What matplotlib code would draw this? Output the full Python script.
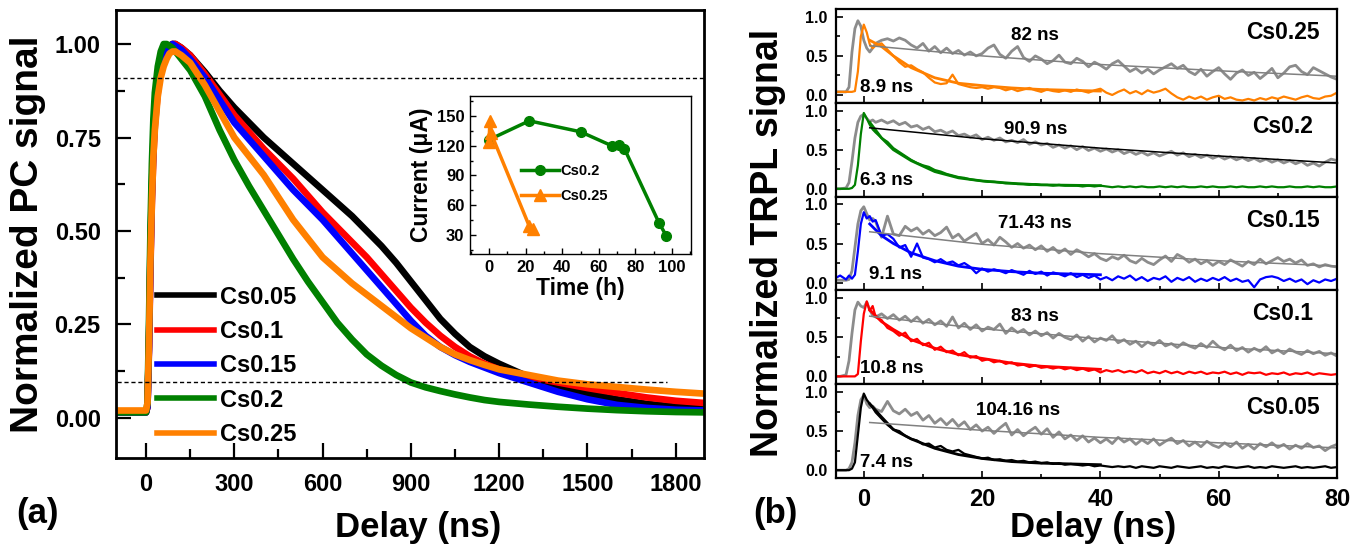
import numpy as np
import matplotlib
matplotlib.use('Agg')
import matplotlib.pyplot as plt
from matplotlib.ticker import MultipleLocator

plt.rcParams['font.family'] = ['Liberation Sans', 'DejaVu Sans']
plt.rcParams['font.weight'] = 'bold'
plt.rcParams['axes.labelweight'] = 'bold'

# ---------------- (a) photoconductivity decay ----------------
t_pc = [-100, 0, 5, 10, 15, 20, 25, 30, 40, 50, 60, 70, 80, 90, 100, 120, 150, 200, 250, 300,
        350, 400, 450, 500, 550, 600, 650, 700, 750, 800, 850, 900, 950, 1000, 1050, 1100,
        1150, 1200, 1300, 1400, 1500, 1600, 1700, 1800, 1900]
pc_cs005 = [0.015, 0.015, 0.03, 0.20, 0.45, 0.62, 0.74, 0.81, 0.89, 0.94, 0.97, 0.985, 0.995, 1.0, 1.0,
            0.99, 0.97, 0.925, 0.875, 0.83, 0.79, 0.75, 0.715, 0.68, 0.645, 0.61, 0.575, 0.54, 0.50,
            0.46, 0.415, 0.365, 0.315, 0.265, 0.225, 0.19, 0.165, 0.145, 0.11, 0.085, 0.065, 0.05,
            0.038, 0.03, 0.025]
pc_cs01 = [0.015, 0.015, 0.03, 0.18, 0.40, 0.58, 0.70, 0.78, 0.87, 0.93, 0.96, 0.98, 0.99, 1.0, 1.0,
           0.99, 0.97, 0.92, 0.865, 0.81, 0.765, 0.72, 0.68, 0.64, 0.595, 0.55, 0.51, 0.47, 0.43,
           0.385, 0.34, 0.295, 0.255, 0.22, 0.19, 0.165, 0.145, 0.13, 0.11, 0.095, 0.08, 0.067,
           0.055, 0.046, 0.04]
pc_cs015 = [0.015, 0.015, 0.03, 0.19, 0.42, 0.60, 0.72, 0.80, 0.88, 0.93, 0.965, 0.985, 0.995, 1.0, 0.995,
            0.985, 0.96, 0.91, 0.85, 0.79, 0.745, 0.70, 0.655, 0.61, 0.57, 0.53, 0.485, 0.44, 0.395,
            0.35, 0.305, 0.26, 0.22, 0.19, 0.168, 0.15, 0.135, 0.12, 0.095, 0.07, 0.05, 0.035,
            0.027, 0.022, 0.02]
pc_cs02 = [0.015, 0.015, 0.04, 0.25, 0.50, 0.68, 0.80, 0.87, 0.94, 0.98, 1.0, 1.0, 0.995, 0.99, 0.98,
           0.96, 0.93, 0.86, 0.77, 0.69, 0.62, 0.555, 0.49, 0.425, 0.365, 0.31, 0.255, 0.21, 0.17,
           0.14, 0.115, 0.095, 0.082, 0.072, 0.063, 0.055, 0.048, 0.043, 0.036, 0.03, 0.025, 0.021,
           0.018, 0.016, 0.015]
pc_cs025 = [0.02, 0.02, 0.04, 0.20, 0.42, 0.58, 0.70, 0.77, 0.86, 0.91, 0.94, 0.96, 0.975, 0.98, 0.98,
            0.97, 0.95, 0.89, 0.82, 0.75, 0.70, 0.65, 0.59, 0.53, 0.48, 0.43, 0.395, 0.36, 0.33,
            0.30, 0.27, 0.24, 0.215, 0.19, 0.17, 0.155, 0.142, 0.13, 0.115, 0.10, 0.09, 0.083,
            0.076, 0.07, 0.065]
pc_labels = ['Cs0.05', 'Cs0.1', 'Cs0.15', 'Cs0.2', 'Cs0.25']
pc_colors = ['#000000', '#FF0000', '#0000FF', '#008000', '#FF8000']

# inset: current vs time
time_cs02 = [0, 22, 50, 67, 71, 74, 93, 97]
cur_cs02 = [126, 145, 134, 120, 121, 117, 42, 29]
time_cs025 = [0, 0.5, 1, 22, 24]
cur_cs025 = [124, 145, 133, 39, 36]

# ---------------- (b) TRPL ----------------
t_pl = [-5, -4, -3, -2.5, -2, -1.5, -1, -0.5, 0, 0.5, 1, 1.5, 2] + list(range(3, 81))

gray_cs025 = [0.04, 0.04, 0.04, 0.10, 0.55, 0.85, 0.95, 0.88, 0.70, 0.60, 0.55, 0.60, 0.66,
              0.70, 0.72, 0.69, 0.73, 0.70, 0.64, 0.60, 0.66, 0.56, 0.62,
              0.54, 0.60, 0.53, 0.57, 0.51, 0.55, 0.50, 0.53, 0.60, 0.64,
              0.52, 0.47, 0.56, 0.62, 0.48, 0.43, 0.50, 0.46, 0.40, 0.44,
              0.51, 0.42, 0.40, 0.47, 0.43, 0.36, 0.42, 0.38, 0.33, 0.40,
              0.44, 0.37, 0.30, 0.34, 0.28, 0.33, 0.27, 0.32, 0.36, 0.40,
              0.34, 0.38, 0.30, 0.26, 0.33, 0.24, 0.30, 0.35, 0.27, 0.20,
              0.28, 0.32, 0.25, 0.29, 0.21, 0.27, 0.34, 0.22, 0.28, 0.36,
              0.38, 0.30, 0.26, 0.35, 0.31, 0.27, 0.23, 0.20]
pl_cs025 = [0.04, 0.04, 0.04, 0.04, 0.04, 0.05, 0.30, 0.75, 0.90, 0.80, 0.65, 0.60, 0.63,
            0.66, 0.58, 0.50, 0.42, 0.36, 0.38, 0.33, 0.29, 0.22, 0.16,
            0.14, 0.15, 0.26, 0.14, 0.12, 0.10, 0.09, 0.10, 0.08, 0.10,
            0.09, 0.06, 0.08, 0.05, 0.07, 0.09, 0.06, 0.04, 0.07, 0.05,
            0.04, 0.06, 0.04, 0.07, 0.05, 0.03, 0.06, 0.08, 0.03, 0.00,
            0.04, 0.07, 0.02, 0.05, 0.01, 0.06, 0.03, 0.05, 0.08, 0.02,
            -0.03, -0.06, -0.02, -0.05, -0.02, -0.06, -0.03, -0.01, -0.05, -0.03,
            -0.06, -0.07, -0.05, -0.07, -0.04, -0.06, -0.03, -0.05, -0.02, -0.04,
            -0.06, -0.03, -0.01, -0.04, -0.05, -0.02, -0.01, 0.03]

gray_cs02 = [0.00, 0.00, 0.01, 0.08, 0.35, 0.65, 0.85, 0.93, 0.95, 0.90, 0.86, 0.88, 0.85,
             0.88, 0.84, 0.87, 0.82, 0.85, 0.79, 0.81, 0.76, 0.79, 0.73,
             0.75, 0.71, 0.74, 0.68, 0.70, 0.66, 0.69, 0.63, 0.66, 0.62,
             0.65, 0.60, 0.62, 0.59, 0.63, 0.57, 0.60, 0.56, 0.58, 0.53,
             0.56, 0.52, 0.55, 0.50, 0.54, 0.49, 0.52, 0.48, 0.51, 0.47,
             0.50, 0.45, 0.48, 0.44, 0.47, 0.43, 0.46, 0.42, 0.45, 0.48,
             0.43, 0.46, 0.41, 0.44, 0.40, 0.43, 0.39, 0.42, 0.38, 0.41,
             0.37, 0.40, 0.36, 0.39, 0.35, 0.38, 0.34, 0.37, 0.33, 0.36,
             0.32, 0.35, 0.30, 0.33, 0.29, 0.34, 0.38, 0.36]
pl_cs02 = [0.00, 0.00, 0.00, 0.00, 0.01, 0.05, 0.30, 0.70, 0.97, 0.90, 0.82, 0.76, 0.72,
           0.65, 0.60, 0.52, 0.47, 0.42, 0.37, 0.33, 0.30, 0.28, 0.24,
           0.22, 0.19, 0.17, 0.15, 0.14, 0.12, 0.11, 0.10, 0.09, 0.09,
           0.08, 0.07, 0.07, 0.06, 0.06, 0.05, 0.06, 0.05, 0.05, 0.04,
           0.05, 0.04, 0.04, 0.04, 0.03, 0.04, 0.03, 0.04, 0.03, 0.02,
           0.03, 0.02, 0.03, 0.02, 0.03, 0.02, 0.02, 0.03, 0.02, 0.03,
           0.02, 0.03, 0.02, 0.02, 0.03, 0.02, 0.03, 0.02, 0.02, 0.03,
           0.02, 0.03, 0.02, 0.02, 0.03, 0.02, 0.03, 0.02, 0.02, 0.03,
           0.02, 0.02, 0.03, 0.02, 0.03, 0.02, 0.02, 0.03]

gray_cs015 = [0.03, 0.03, 0.03, 0.04, 0.15, 0.45, 0.75, 0.92, 0.97, 0.88, 0.80, 0.82, 0.78,
              0.58, 0.85, 0.62, 0.60, 0.72, 0.66, 0.70, 0.62, 0.67, 0.60,
              0.64, 0.71, 0.57, 0.62, 0.53, 0.58, 0.63, 0.50, 0.55, 0.48,
              0.58, 0.52, 0.45, 0.50, 0.44, 0.48, 0.42, 0.47, 0.40, 0.45,
              0.38, 0.43, 0.36, 0.42, 0.38, 0.33, 0.37, 0.31, 0.28, 0.33,
              0.30, 0.35, 0.28, 0.25, 0.31, 0.26, 0.23, 0.29, 0.34, 0.27,
              0.36, 0.32, 0.26, 0.30, 0.24, 0.28, 0.22, 0.27, 0.23, 0.29,
              0.25, 0.21, 0.27, 0.23, 0.30, 0.24, 0.28, 0.32, 0.27, 0.30,
              0.25, 0.29, 0.22, 0.24, 0.20, 0.23, 0.21, 0.20]
pl_cs015 = [0.05, 0.09, 0.04, 0.09, 0.05, 0.10, 0.40, 0.75, 0.90, 0.82, 0.85, 0.78, 0.80,
            0.60, 0.62, 0.56, 0.45, 0.48, 0.33, 0.50, 0.32, 0.30, 0.26,
            0.30, 0.25, 0.27, 0.22, 0.25, 0.20, 0.12, 0.18, 0.14, 0.17,
            0.15, 0.12, 0.16, 0.13, 0.10, 0.15, 0.11, 0.14, 0.09, 0.13,
            0.11, 0.08, 0.12, 0.07, 0.10, 0.06, 0.09, 0.04, 0.07, 0.03,
            0.08, 0.05, 0.09, 0.03, 0.07, 0.02, 0.06, 0.04, 0.08, 0.01,
            0.06, 0.03, 0.07, 0.01, 0.05, 0.02, 0.06, 0.03, 0.07, 0.02,
            0.05, 0.01, 0.03, -0.06, 0.04, 0.07, 0.08, 0.06, 0.02, 0.05,
            0.01, 0.04, -0.02, 0.03, 0.00, 0.04, 0.02, 0.05]

gray_cs01 = [0.00, 0.00, 0.02, 0.20, 0.55, 0.85, 0.95, 0.90, 0.88, 0.95, 0.85, 0.78, 0.76,
             0.80, 0.74, 0.79, 0.72, 0.77, 0.70, 0.76, 0.68, 0.73, 0.66,
             0.71, 0.64, 0.76, 0.62, 0.68, 0.60, 0.66, 0.58, 0.63, 0.60,
             0.67, 0.55, 0.62, 0.56, 0.60, 0.53, 0.58, 0.52, 0.56, 0.49,
             0.55, 0.50, 0.47, 0.53, 0.45, 0.51, 0.44, 0.49, 0.46, 0.52,
             0.43, 0.47, 0.41, 0.45, 0.38, 0.44, 0.40, 0.46, 0.39, 0.42,
             0.37, 0.43, 0.39, 0.36, 0.42, 0.37, 0.45, 0.38, 0.34, 0.40,
             0.33, 0.37, 0.31, 0.36, 0.32, 0.38, 0.30, 0.34, 0.29, 0.35,
             0.31, 0.28, 0.33, 0.29, 0.32, 0.27, 0.30, 0.26]
pl_cs01 = [0.00, 0.00, 0.00, 0.00, 0.00, 0.00, 0.03, 0.45, 0.80, 0.96, 0.84, 0.90, 0.76,
           0.72, 0.62, 0.58, 0.52, 0.56, 0.45, 0.48, 0.40, 0.43, 0.34,
           0.38, 0.31, 0.33, 0.27, 0.31, 0.24, 0.26, 0.20, 0.22, 0.18,
           0.20, 0.16, 0.18, 0.14, 0.15, 0.12, 0.14, 0.11, 0.12, 0.10,
           0.12, 0.09, 0.11, 0.08, 0.10, 0.07, 0.09, 0.05, 0.08, 0.06,
           0.08, 0.05, 0.07, 0.05, 0.08, 0.04, 0.06, 0.04, 0.07, 0.04,
           0.06, 0.03, 0.06, 0.04, 0.06, 0.03, 0.05, 0.04, 0.06, 0.03,
           0.05, 0.02, 0.05, 0.04, 0.05, 0.02, 0.04, 0.03, 0.05, 0.02,
           0.04, 0.03, 0.05, 0.02, 0.04, 0.03, 0.02, 0.03]

gray_cs005 = [0.00, 0.00, 0.00, 0.02, 0.10, 0.35, 0.70, 0.90, 0.96, 0.85, 0.80, 0.82, 0.78,
              0.75, 0.88, 0.76, 0.72, 0.78, 0.70, 0.74, 0.64, 0.70, 0.60,
              0.66, 0.58, 0.65, 0.56, 0.62, 0.52, 0.58, 0.50, 0.55, 0.47,
              0.54, 0.60, 0.45, 0.52, 0.44, 0.50, 0.55, 0.46, 0.53, 0.42,
              0.49, 0.40, 0.45, 0.38, 0.44, 0.36, 0.41, 0.35, 0.40, 0.34,
              0.42, 0.36, 0.40, 0.33, 0.39, 0.34, 0.40, 0.32, 0.37, 0.41,
              0.34, 0.38, 0.31, 0.36, 0.30, 0.37, 0.32, 0.29, 0.35, 0.30,
              0.36, 0.28, 0.33, 0.27, 0.34, 0.30, 0.35, 0.29, 0.33, 0.27,
              0.32, 0.28, 0.34, 0.29, 0.31, 0.25, 0.30, 0.33]
pl_cs005 = [0.00, 0.00, 0.00, 0.00, 0.02, 0.10, 0.45, 0.80, 0.98, 0.90, 0.85, 0.80, 0.74,
            0.66, 0.58, 0.52, 0.50, 0.44, 0.40, 0.38, 0.33, 0.34, 0.29,
            0.31, 0.26, 0.24, 0.26, 0.21, 0.19, 0.17, 0.15, 0.16, 0.13,
            0.14, 0.12, 0.13, 0.11, 0.12, 0.10, 0.11, 0.09, 0.10, 0.08,
            0.09, 0.07, 0.08, 0.07, 0.06, 0.07, 0.05, 0.06, 0.05, 0.04,
            0.05, 0.04, 0.05, 0.03, 0.05, 0.04, 0.03, 0.05, 0.04, 0.03,
            0.05, 0.04, 0.03, 0.04, 0.05, 0.03, 0.04, 0.03, 0.05, 0.04,
            0.03, 0.04, 0.05, 0.03, 0.04, 0.03, 0.05, 0.04, 0.03, 0.04,
            0.05, 0.03, 0.04, 0.03, 0.04, 0.05, 0.03, 0.04]

# slow (gray trace) fit lines
t_slow = [1, 20, 40, 60, 80]
slow_cs025 = [0.63, 0.50, 0.39, 0.31, 0.24]
slow_cs02 = [0.78, 0.64, 0.52, 0.42, 0.33]
slow_cs015 = [0.65, 0.49, 0.37, 0.28, 0.21]
slow_cs01 = [0.77, 0.61, 0.48, 0.37, 0.29]
slow_cs005 = [0.61, 0.51, 0.42, 0.35, 0.285]

# fast (coloured trace) fit lines
t_fast = [1, 3, 5, 8, 12, 16, 20, 25, 30, 35, 40]
fast_cs025 = [0.70, 0.62, 0.50, 0.35, 0.22, 0.15, 0.12, 0.09, 0.07, 0.06, 0.05]
fast_cs02 = [0.85, 0.65, 0.50, 0.36, 0.22, 0.14, 0.10, 0.07, 0.05, 0.045, 0.04]
fast_cs015 = [0.75, 0.60, 0.50, 0.38, 0.28, 0.21, 0.17, 0.14, 0.12, 0.11, 0.10]
fast_cs01 = [0.85, 0.70, 0.60, 0.47, 0.36, 0.28, 0.23, 0.17, 0.13, 0.11, 0.09]
fast_cs005 = [0.85, 0.68, 0.52, 0.40, 0.28, 0.20, 0.15, 0.11, 0.09, 0.08, 0.07]

tau_slow = ['82 ns', '90.9 ns', '71.43 ns', '83 ns', '104.16 ns']
tau_fast = ['8.9 ns', '6.3 ns', '9.1 ns', '10.8 ns', '7.4 ns']
pl_names = ['Cs0.25', 'Cs0.2', 'Cs0.15', 'Cs0.1', 'Cs0.05']
pl_colors = ['#FF8000', '#008000', '#0000FF', '#FF0000', '#000000']
slow_fit_colors = ['#808080', '#000000', '#808080', '#808080', '#808080']

W, H = 1357, 549


def rect(l, t, r, b):
    return [l / W, 1 - b / H, (r - l) / W, (b - t) / H]


fig = plt.figure(figsize=(W / 100, H / 100), dpi=100)

# ---------- panel (a) ----------
ax = fig.add_axes(rect(116, 10, 704, 458))
for y, lab, c in zip([pc_cs005, pc_cs01, pc_cs015, pc_cs02, pc_cs025], pc_labels, pc_colors):
    ax.plot(t_pc, y, color=c, lw=4.8, label=lab, solid_joinstyle='round')
ax.axhline(0.91, color='black', lw=1.0, ls=(0, (3, 2)))
ax.hlines(0.096, -100, 1770, color='black', lw=1.0, ls=(0, (3, 2)))
ax.set_xlim(-102, 1896)
ax.set_ylim(-0.107, 1.091)
ax.xaxis.set_major_locator(MultipleLocator(300))
ax.xaxis.set_minor_locator(MultipleLocator(150))
ax.yaxis.set_major_locator(MultipleLocator(0.25))
ax.yaxis.set_minor_locator(MultipleLocator(0.125))
ax.yaxis.set_major_formatter(plt.FormatStrFormatter('%.2f'))
ax.tick_params(which='both', direction='in', top=False, right=False, width=1.6, labelsize=17, pad=11)
ax.tick_params(which='major', length=11)
ax.tick_params(which='minor', length=6.5)
for s in ax.spines.values():
    s.set_linewidth(2)
leg = ax.legend(loc='upper left', bbox_to_anchor=(0.07, 0.385), frameon=False, fontsize=17,
                handlelength=2.4, handletextpad=0.25, labelspacing=0.48, borderpad=0, borderaxespad=0)
for h in leg.get_lines():
    h.set_linewidth(4)

fig.text(28 / W, 1 - 234 / H, 'Normalized PC signal', rotation=90, ha='center', va='center',
         fontsize=28, fontweight='bold')
fig.text(418 / W, 1 - 527 / H, 'Delay (ns)', ha='center', va='center', fontsize=25, fontweight='bold')
fig.text(37 / W, 1 - 514 / H, '(a)', ha='center', va='center', fontsize=25, fontweight='bold')

# inset
axin = fig.add_axes(rect(470, 96, 691, 254))
axin.plot(time_cs02, cur_cs02, color='#008000', lw=2.5, marker='o', ms=7, label='Cs0.2')
axin.plot(time_cs025, cur_cs025, color='#FF8000', lw=2.5, marker='^', ms=9, label='Cs0.25')
axin.set_xlim(-10.4, 110.4)
axin.set_ylim(11, 170)
axin.xaxis.set_major_locator(MultipleLocator(20))
axin.xaxis.set_minor_locator(MultipleLocator(10))
axin.yaxis.set_major_locator(MultipleLocator(30))
axin.yaxis.set_minor_locator(MultipleLocator(15))
axin.tick_params(which='both', direction='in', top=False, right=False, labelsize=12, pad=4, width=1)
axin.tick_params(which='major', length=4)
axin.tick_params(which='minor', length=2.5)
for s in axin.spines.values():
    s.set_linewidth(1)
axin.set_xlabel('Time (h)', fontsize=16.5, labelpad=2)
axin.set_ylabel('Current (μA)', fontsize=16.5, labelpad=3)
axin.legend(loc='upper left', bbox_to_anchor=(0.23, 0.57), frameon=False, fontsize=10.5,
            handlelength=2.6, handletextpad=0.1, labelspacing=0.75, borderpad=0, borderaxespad=0)

# ---------- panel (b) ----------
grays = [gray_cs025, gray_cs02, gray_cs015, gray_cs01, gray_cs005]
pls = [pl_cs025, pl_cs02, pl_cs015, pl_cs01, pl_cs005]
slows = [slow_cs025, slow_cs02, slow_cs015, slow_cs01, slow_cs005]
fasts = [fast_cs025, fast_cs02, fast_cs015, fast_cs01, fast_cs005]

top0, bot0 = 9, 478
ph = (bot0 - top0) / 5
for k in range(5):
    a = fig.add_axes(rect(836, top0 + k * ph, 1337, top0 + (k + 1) * ph))
    a.plot(t_pl, grays[k], color='#8C8C8C', lw=2.0)
    a.plot(t_pl, pls[k], color=pl_colors[k], lw=1.6)
    a.plot(t_fast, fasts[k], color=pl_colors[k], lw=2.0)
    a.plot(t_slow, slows[k], color=slow_fit_colors[k], lw=1.1)
    a.set_xlim(-4.7, 80)
    a.set_ylim(-0.1, 1.1)
    a.yaxis.set_major_locator(MultipleLocator(0.5))
    a.yaxis.set_minor_locator(MultipleLocator(0.25))
    a.xaxis.set_major_locator(MultipleLocator(20))
    a.xaxis.set_minor_locator(MultipleLocator(10))
    a.yaxis.set_major_formatter(plt.FormatStrFormatter('%.1f'))
    a.tick_params(which='both', direction='in', top=False, right=False, width=1.2)
    a.tick_params(axis='y', labelsize=11.5, pad=6)
    a.tick_params(axis='x', labelsize=17, pad=7)
    a.tick_params(which='major', length=5)
    a.tick_params(which='minor', length=3)
    if k < 4:
        a.tick_params(axis='x', labelbottom=False)
    for s in a.spines.values():
        s.set_linewidth(1.6)
    a.text(29 if k != 4 else 26, 0.76, tau_slow[k], ha='center', va='center', fontsize=13.5)
    a.text(-0.6 if k != 2 else 0.8, 0.10, tau_fast[k], ha='left', va='center', fontsize=13.5)
    a.text(70.8, 0.80, pl_names[k], ha='center', va='center', fontsize=16.5)

fig.text(768 / W, 1 - 243 / H, 'Normalized TRPL signal', rotation=90, ha='center', va='center',
         fontsize=27, fontweight='bold')
fig.text(1093 / W, 1 - 527 / H, 'Delay (ns)', ha='center', va='center', fontsize=25, fontweight='bold')
fig.text(775 / W, 1 - 514 / H, '(b)', ha='center', va='center', fontsize=25, fontweight='bold')

fig.savefig('out.png', dpi=100)
